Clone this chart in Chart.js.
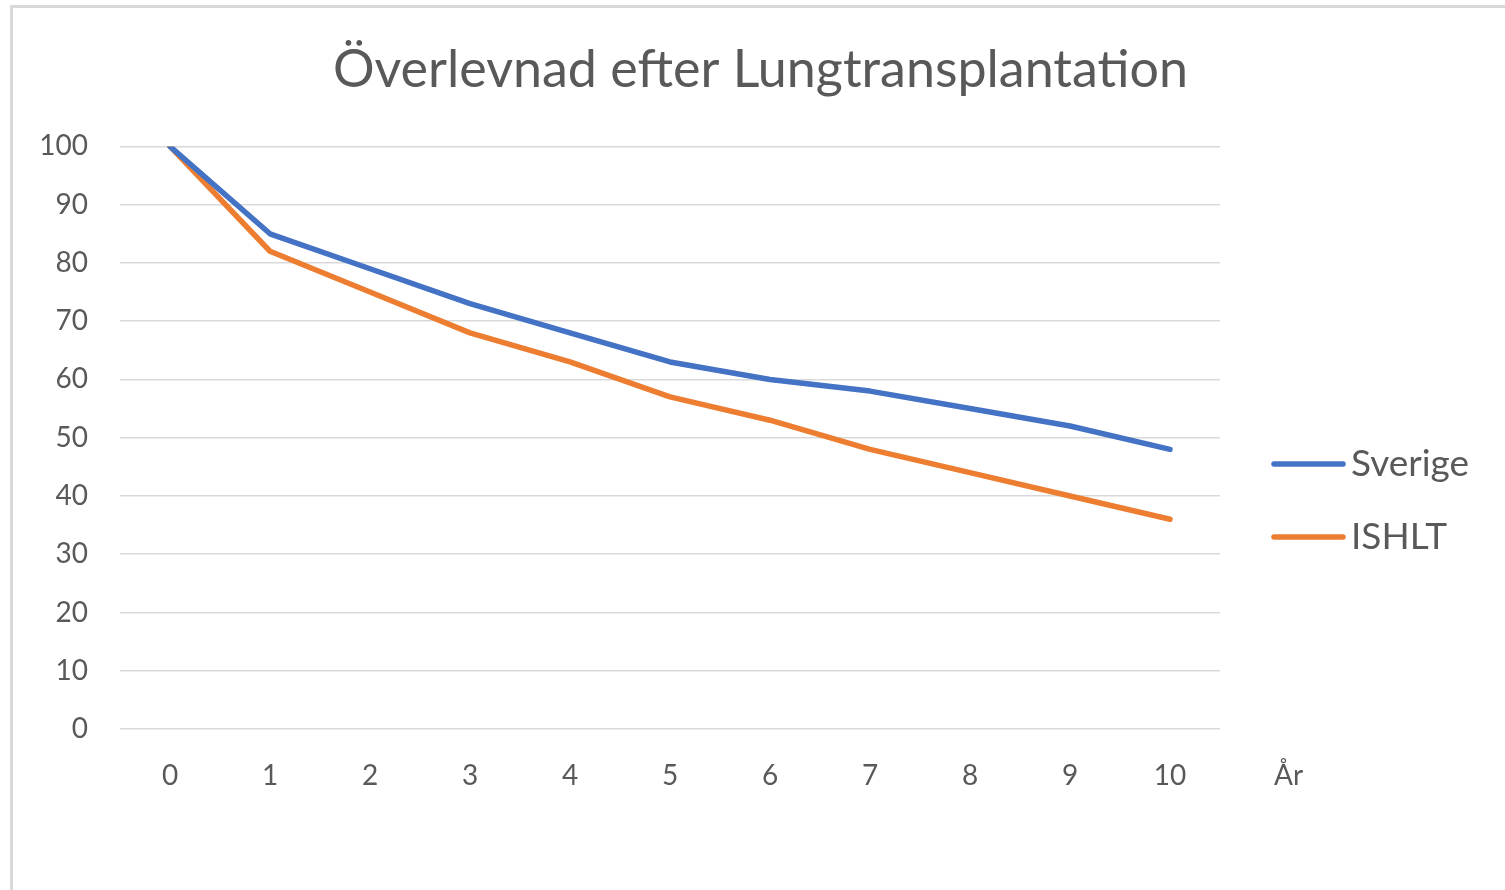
<!DOCTYPE html>
<html lang="sv">
<head>
  <meta charset="UTF-8">
  <title>Överlevnad efter Lungtransplantation</title>
  <script src="https://cdn.jsdelivr.net/npm/chart.js"></script>
  <style>
    body { margin: 0; background: #ffffff; overflow: hidden; }
    .frame {
      position: absolute; left: 10px; top: 5px;
      width: 1520px; height: 920px;
      border: 3px solid #d9d9d9;
    }
    #chart { position: absolute; left: 0; top: 0; }
  </style>
</head>
<body>
  <div class="frame"></div>
  <canvas id="chart" width="1505" height="890"></canvas>

  <script>
    const years = ['0', '1', '2', '3', '4', '5', '6', '7', '8', '9', '10'];
    const sverige = [100, 85, 79, 73, 68, 63, 60, 58, 55, 52, 48];
    const ishlt = [100, 82, 75, 68, 63, 57, 53, 48, 44, 40, 36];
    const axisUnit = 'År';

    const FONT = 'Lato, "Open Sans", sans-serif';
    const GREY = '#595959';

    // legend + "År" label drawn next to the plot
    const extras = {
      id: 'extras',
      afterDraw(chart) {
        const ctx = chart.ctx;
        const x = chart.scales.x;
        ctx.save();
        ctx.fillStyle = GREY;
        ctx.font = '28px ' + FONT;
        ctx.textAlign = 'left';
        ctx.textBaseline = 'middle';
        ctx.fillText(axisUnit, x.right + 54, 776);

        const rows = [464, 537];
        chart.data.datasets.forEach((ds, i) => {
          const y = rows[i];
          ctx.strokeStyle = ds.borderColor;
          ctx.lineWidth = 5.5;
          ctx.lineCap = 'round';
          ctx.beginPath();
          ctx.moveTo(1274, y);
          ctx.lineTo(1343, y);
          ctx.stroke();
          ctx.font = '37px ' + FONT;
          ctx.fillText(ds.label, 1351, y);
        });
        ctx.restore();
      }
    };

    new Chart(document.getElementById('chart'), {
      type: 'line',
      data: {
        labels: years,
        datasets: [
          { label: 'Sverige', data: sverige, borderColor: '#4472C4', backgroundColor: '#4472C4' },
          { label: 'ISHLT', data: ishlt, borderColor: '#ED7D31', backgroundColor: '#ED7D31' }
        ]
      },
      options: {
        responsive: false,
        animation: false,
        layout: { padding: { left: 16, right: 0, top: 0, bottom: 0 } },
        elements: {
          line: { borderWidth: 5.5, tension: 0, borderCapStyle: 'round', borderJoinStyle: 'round' },
          point: { radius: 0 }
        },
        plugins: {
          legend: { display: false },
          tooltip: { enabled: false },
          title: {
            display: true,
            text: 'Överlevnad efter Lungtransplantation',
            color: GREY,
            font: { family: FONT, size: 52, weight: 'normal' },
            padding: { top: 39, bottom: 45 }
          }
        },
        scales: {
          x: {
            offset: true,
            grid: { display: false, drawTicks: false },
            border: { display: false },
            ticks: { color: GREY, font: { family: FONT, size: 28 }, padding: 30, maxRotation: 0 },
            afterFit(s) { s.height = 161; }
          },
          y: {
            min: 0,
            max: 100,
            grid: { color: '#d9d9d9', lineWidth: 1.5, drawTicks: false },
            border: { display: false },
            ticks: { stepSize: 10, color: GREY, font: { family: FONT, size: 28 }, padding: 32 },
            afterFit(s) { s.width = 104; }
          },
          // empty right-hand strip that keeps room for the legend
          side: {
            type: 'linear',
            position: 'right',
            grid: { display: false, drawTicks: false },
            border: { display: false },
            ticks: { display: false },
            afterFit(s) { s.width = 285; }
          }
        }
      },
      plugins: [extras]
    });
  </script>
</body>
</html>
